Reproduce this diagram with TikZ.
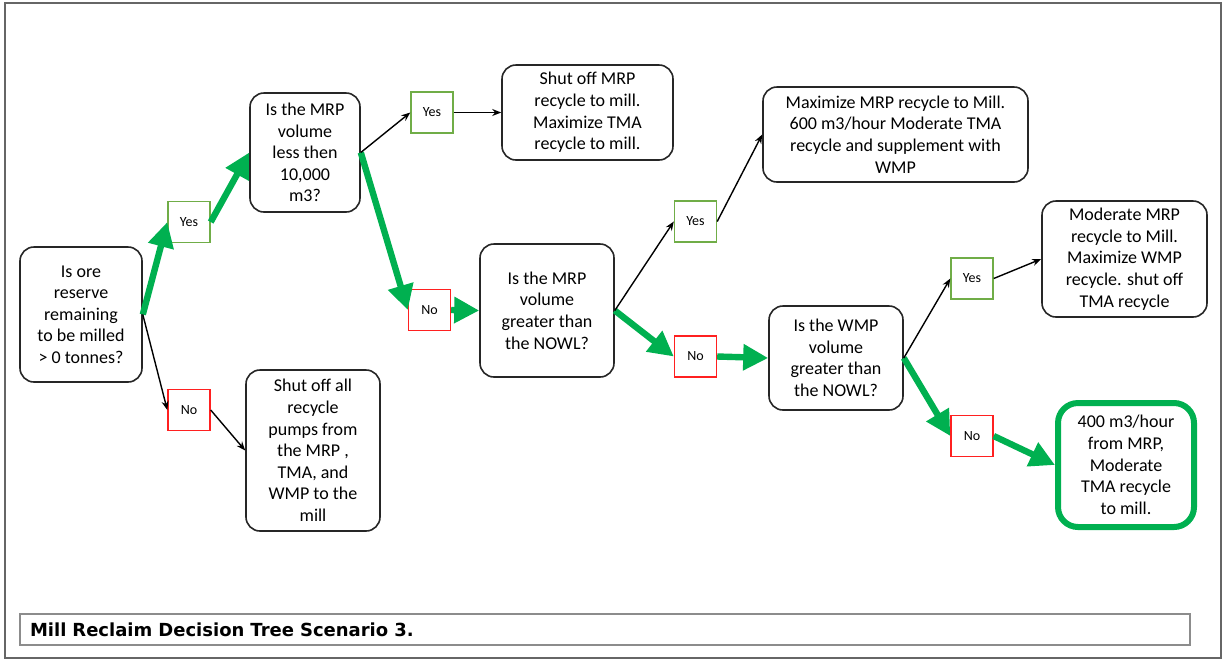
\documentclass[tikz,border=0pt]{standalone}
\usepackage{fontspec}
\setmainfont{Carlito}
\newfontfamily\titlefont{DejaVu Sans}
\usetikzlibrary{arrows.meta}
\definecolor{pathgreen}{HTML}{00B050}
\definecolor{yesgreen}{HTML}{70AD47}
\definecolor{nored}{HTML}{FF2020}
\tikzset{
  qbox/.style={draw=black!85, line width=0.8pt, rounded corners=7pt, align=center, inner sep=1pt, font=\fontsize{9}{10.8}\selectfont},
  endbox/.style={qbox, draw=pathgreen, line width=3pt, rounded corners=10pt},
  yesbox/.style={draw=yesgreen, line width=0.7pt, minimum width=21pt, minimum height=20.5pt, inner sep=0pt, font=\fontsize{7}{8}\selectfont},
  nobox/.style={yesbox, draw=nored},
  wire/.style={line width=0.7pt, -{Stealth[length=4.5pt,width=3.5pt]}},
  hot/.style={draw=pathgreen, line width=3.2pt, -{Triangle[length=12.5pt,width=12.5pt]}},
}

\begin{document}
\begin{tikzpicture}[x=0.5pt, y=-0.5pt]
  \useasboundingbox (0,0) rectangle (1225,660);
  % outer frame
  \draw[black!60, line width=1pt] (5,3) rectangle (1221,658);
  % questions
  \node[qbox, minimum width=61pt, minimum height=67.5pt] (q1) at (81,314.5) {Is ore\\reserve\\remaining\\to be milled\\> 0 tonnes?};
  \node[qbox, minimum width=55pt, minimum height=59.5pt] (q2) at (305,152.5) {Is the MRP\\volume\\less then\\10,000\\m3?};
  \node[qbox, minimum width=67pt, minimum height=66.5pt] (q3) at (547,310.5) {Is the MRP\\volume\\greater than\\the NOWL?};
  \node[qbox, minimum width=67pt, minimum height=52pt] (q4) at (836,358) {Is the WMP\\volume\\greater than\\the NOWL?};
  % yes / no tags
  \node[yesbox] (y1) at (189,222) {Yes};
  \node[nobox] (n1) at (189,410) {No};
  \node[yesbox] (y2) at (432,112.5) {Yes};
  \node[nobox] (n2) at (429.5,310) {No};
  \node[yesbox] (y3) at (695.5,221.5) {Yes};
  \node[nobox] (n3) at (695.5,356.5) {No};
  \node[yesbox] (y4) at (972,278.5) {Yes};
  \node[nobox] (n4) at (972,436) {No};
  % actions
  \node[qbox, minimum width=67pt, minimum height=80.5pt] (a1) at (313,450.5) {Shut off all\\recycle\\pumps from\\the MRP ,\\TMA, and\\WMP to the\\mill};
  \node[qbox, minimum width=85.5pt, minimum height=47.5pt] (a2) at (587.5,112.5) {Shut off MRP\\recycle to mill.\\Maximize TMA\\recycle to mill.};
  \node[qbox, minimum width=132.5pt, minimum height=47.5pt] (a3) at (895.5,134.5) {Maximize MRP recycle to Mill.\\600 m3/hour Moderate TMA\\recycle and supplement with\\WMP};
  \node[qbox, minimum width=82.5pt, minimum height=58pt] (a4) at (1124.5,259) {Moderate MRP\\recycle to Mill.\\Maximize WMP\\recycle. shut off\\TMA recycle};
  \node[endbox, minimum width=68pt, minimum height=62pt] (a5) at (1126,465) {400 m3/hour\\from MRP,\\Moderate\\TMA recycle\\to mill.};
  % chosen path
  \draw[hot] (q1.east) -- (y1.west);
  \draw[hot] (y1.east) -- (q2.west);
  \draw[hot] (q2.east) -- (n2.west);
  \draw[hot] (n2.east) -- (q3.west);
  \draw[hot] (q3.east) -- (n3.west);
  \draw[hot] (n3.east) -- (q4.west);
  \draw[hot] (q4.east) -- (n4.west);
  \draw[hot] (n4.east) -- (a5.west);
  % other branches
  \draw[wire] (q1.east) -- (n1.west);
  \draw[wire] (n1.east) -- (a1.west);
  \draw[wire] (q2.east) -- (y2.west);
  \draw[wire] (y2.east) -- (a2.west);
  \draw[wire] (q3.east) -- (y3.west);
  \draw[wire] (y3.east) -- (a3.west);
  \draw[wire] (q4.east) -- (y4.west);
  \draw[wire] (y4.east) -- (a4.west);
  % caption
  \node[draw=black!45, line width=0.8pt, minimum height=15.5pt, inner xsep=5pt, text width=575pt, align=left, font=\titlefont\bfseries\fontsize{9}{10}\selectfont] (title) at (605,629.5) {Mill Reclaim Decision Tree Scenario 3.};
\end{tikzpicture}
\end{document}
